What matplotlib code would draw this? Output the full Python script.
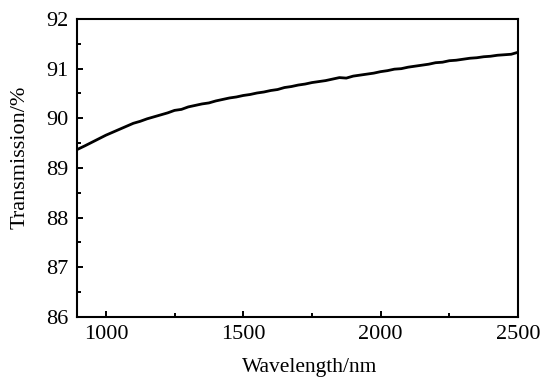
import matplotlib
matplotlib.use("Agg")
import matplotlib.pyplot as plt
from matplotlib.ticker import MultipleLocator

# Transmission spectrum (nm, %)
wavelength = [895, 925, 950, 975, 1000, 1025, 1050, 1075, 1100, 1125,
              1150, 1175, 1200, 1225, 1250, 1275, 1300, 1325, 1350, 1375,
              1400, 1425, 1450, 1475, 1500, 1525, 1550, 1575, 1600, 1625,
              1650, 1675, 1700, 1725, 1750, 1775, 1800, 1825, 1850, 1875,
              1900, 1925, 1950, 1975, 2000, 2025, 2050, 2075, 2100, 2125,
              2150, 2175, 2200, 2225, 2250, 2275, 2300, 2325, 2350, 2375,
              2400, 2425, 2450, 2475, 2500]
transmission = [89.37, 89.45, 89.52, 89.59, 89.66, 89.72, 89.78, 89.84, 89.90, 89.94,
                89.99, 90.03, 90.07, 90.11, 90.16, 90.18, 90.23, 90.26, 90.29, 90.31,
                90.35, 90.38, 90.41, 90.43, 90.46, 90.48, 90.51, 90.53, 90.56, 90.58,
                90.62, 90.64, 90.67, 90.69, 90.72, 90.74, 90.76, 90.79, 90.82, 90.81,
                90.85, 90.87, 90.89, 90.91, 90.94, 90.96, 90.99, 91.00, 91.03, 91.05,
                91.07, 91.09, 91.12, 91.13, 91.16, 91.17, 91.19, 91.21, 91.22, 91.24,
                91.25, 91.27, 91.28, 91.29, 91.33]

x_ticks = [1000, 1500, 2000, 2500]
y_ticks = [86, 87, 88, 89, 90, 91, 92]

plt.rcParams["font.family"] = ["Liberation Serif", "DejaVu Serif"]

fig = plt.figure(figsize=(5.45, 3.77), dpi=100)
ax = fig.add_axes([0.1413, 0.1592, 0.8092, 0.7904])

ax.plot(wavelength, transmission, color="black", linewidth=2.0)

ax.set_xlim(895, 2500)
ax.set_ylim(86, 92)
ax.set_xticks(x_ticks)
ax.set_yticks(y_ticks)
ax.xaxis.set_minor_locator(MultipleLocator(250))
ax.yaxis.set_minor_locator(MultipleLocator(0.5))

ax.tick_params(which="both", direction="in", top=False, right=False,
               width=1.4, labelsize=16)
ax.tick_params(which="major", length=4, pad=6)
ax.tick_params(which="minor", length=3)

for spine in ax.spines.values():
    spine.set_linewidth(1.5)

ax.set_xlabel("Wavelength/nm", fontsize=15.5, va="center")
ax.set_ylabel("Transmission/%", fontsize=16, va="center")
ax.xaxis.set_label_coords(0.527, -0.171)
ax.yaxis.set_label_coords(-0.129, 0.537)

plt.savefig("out.png", dpi=100)
plt.close(fig)
